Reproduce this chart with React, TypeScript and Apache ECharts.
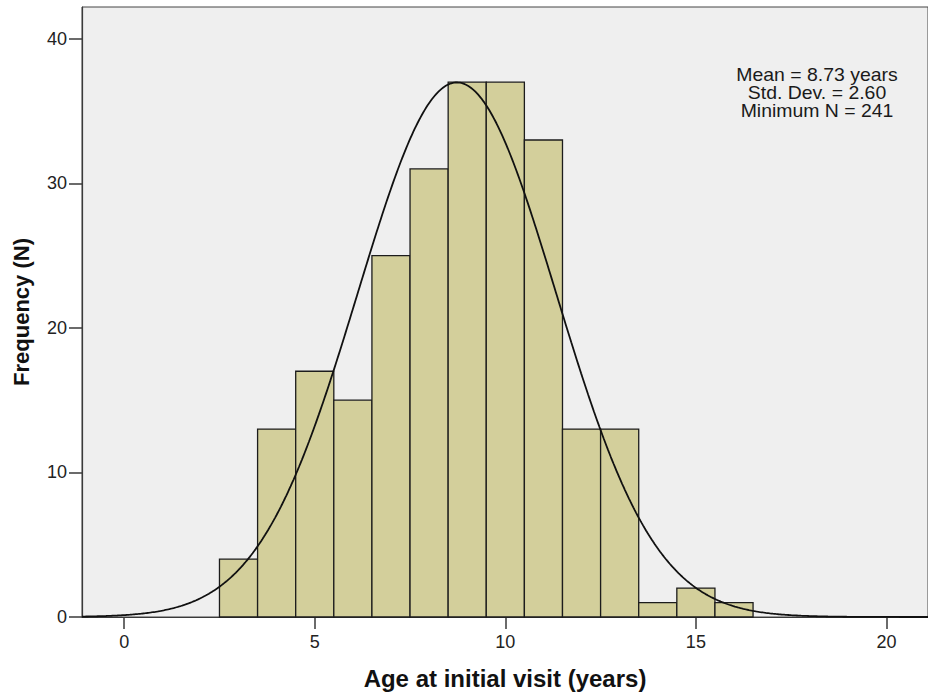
import React, { useEffect, useRef } from "react";
import * as echarts from "echarts";

// Age bins (centre of each one-year bin) and their counts
const binCenters = [3, 4, 5, 6, 7, 8, 9, 10, 11, 12, 13, 14, 15, 16];
const counts = [4, 13, 17, 15, 25, 31, 37, 37, 33, 13, 13, 1, 2, 1];

// Summary statistics shown in the legend box and used for the fitted normal curve
const meanAge = 8.73;
const sdAge = 2.6;
const sampleN = 241;
const binWidth = 1;

const xTickValues = [0, 5, 10, 15, 20];
const yTickValues = [0, 10, 20, 30, 40];

const X_MIN = -1.107;
const X_MAX = 21.09;
const Y_MAX = 42.2;

const FONT = "'Liberation Sans', Arial, Helvetica, sans-serif";

function normalCurve(): number[][] {
  const pts: number[][] = [];
  const scale = (sampleN * binWidth) / (sdAge * Math.sqrt(2 * Math.PI));
  const steps = 600;
  for (let i = 0; i <= steps; i++) {
    const x = X_MIN + ((X_MAX - X_MIN) * i) / steps;
    const z = (x - meanAge) / sdAge;
    pts.push([x, scale * Math.exp(-0.5 * z * z)]);
  }
  return pts;
}

export default function App() {
  const ref = useRef<HTMLDivElement>(null);

  useEffect(() => {
    if (!ref.current) return;
    const chart = echarts.init(ref.current, null, { renderer: "svg" });
    const barData = binCenters.map((c, i) => [c, counts[i]]);

    chart.setOption({
      animation: false,
      backgroundColor: "#ffffff",
      grid: {
        left: 82,
        top: 7,
        width: 848,
        height: 611,
        show: true,
        backgroundColor: "#efefef",
        borderColor: "#444444",
        borderWidth: 1,
      },
      xAxis: {
        type: "value",
        min: X_MIN,
        max: X_MAX,
        name: "Age at initial visit (years)",
        nameLocation: "middle",
        nameGap: 49,
        nameTextStyle: {
          fontFamily: FONT,
          fontSize: 24,
          fontWeight: "bold",
          color: "#111111",
        },
        axisLine: { show: true, onZero: false, lineStyle: { color: "#3a3a3a", width: 1.2 } },
        axisTick: {
          show: true,
          length: 12,
          customValues: xTickValues,
          lineStyle: { color: "#3a3a3a", width: 1.5 },
        },
        axisLabel: {
          customValues: xTickValues,
          margin: 16,
          fontFamily: FONT,
          fontSize: 18,
          color: "#222222",
        },
        splitLine: { show: false },
      },
      yAxis: {
        type: "value",
        min: 0,
        max: Y_MAX,
        name: "Frequency (N)",
        nameLocation: "middle",
        nameGap: 50,
        nameTextStyle: {
          fontFamily: FONT,
          fontSize: 22,
          fontWeight: "bold",
          color: "#111111",
        },
        axisLine: { show: true, onZero: false, lineStyle: { color: "#3a3a3a", width: 1.2 } },
        axisTick: {
          show: true,
          length: 13,
          customValues: yTickValues,
          lineStyle: { color: "#3a3a3a", width: 1.5 },
        },
        axisLabel: {
          customValues: yTickValues,
          margin: 15,
          fontFamily: FONT,
          fontSize: 18,
          color: "#222222",
        },
        splitLine: { show: false },
      },
      graphic: [
        {
          type: "text",
          x: 817,
          y: 65,
          scaleX: 1.08,
          style: {
            text: "Mean = 8.73 years\nStd. Dev. = 2.60\nMinimum N = 241",
            textAlign: "center",
            textVerticalAlign: "top",
            fontFamily: FONT,
            fontSize: 18,
            lineHeight: 18.5,
            fill: "#1a1a1a",
          },
        },
      ],
      series: [
        {
          type: "custom",
          data: barData,
          renderItem: (params: any, api: any) => {
            const c = api.value(0);
            const v = api.value(1);
            const p0 = api.coord([c - binWidth / 2, 0]);
            const p1 = api.coord([c + binWidth / 2, v]);
            return {
              type: "rect",
              shape: {
                x: p0[0],
                y: p1[1],
                width: p1[0] - p0[0],
                height: p0[1] - p1[1],
              },
              style: {
                fill: "#d3cf9b",
                stroke: "#1c1c1c",
                lineWidth: 1.3,
              },
            };
          },
          z: 2,
        },
        {
          type: "line",
          data: normalCurve(),
          showSymbol: false,
          smooth: false,
          lineStyle: { color: "#111111", width: 1.8 },
          z: 3,
        },
      ],
    });

    return () => chart.dispose();
  }, []);

  return (
    <div
      ref={ref}
      style={{ position: "fixed", left: 0, top: 0, width: 928, height: 695 }}
    />
  );
}
